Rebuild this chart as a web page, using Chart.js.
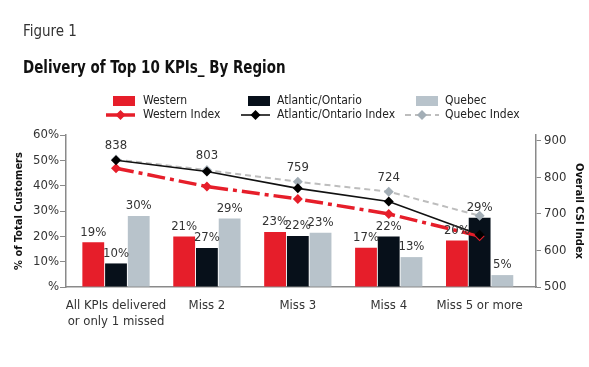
<!DOCTYPE html>
<html>
<head>
<meta charset="utf-8">
<script src="https://cdn.jsdelivr.net/npm/chart.js@4"></script>
<style>
  body { margin: 0; background: #fff; }
  #wrap { position: relative; width: 589px; height: 367px; }
  .fig { position: absolute; left: 23px; top: 22px; font: 15px "Liberation Sans Narrow", "DejaVu Sans Condensed", sans-serif; color: #333; }
  .ttl { position: absolute; left: 23px; top: 57px; font: bold 17px "Liberation Sans Narrow", "DejaVu Sans Condensed", sans-serif; color: #111;
         transform: scaleX(0.88); transform-origin: left center; white-space: nowrap; }
  canvas { position: absolute; left: 0; top: 0; }
</style>
</head>
<body>
<div id="wrap">
  <canvas id="chart" width="589" height="367"></canvas>
  <div class="fig">Figure 1</div>
  <div class="ttl">Delivery of Top 10 KPIs_ By Region</div>
</div>
<script>
// DATA -----------------------------------------------------------------------

const categories = [['All KPIs delivered', 'or only 1 missed'], 'Miss 2', 'Miss 3', 'Miss 4', 'Miss 5 or more']

// bar heights as drawn (% of total customers)
const western = [17.7, 19.9, 21.7, 15.5, 18.4]
const atlantic = [9.3, 15.4, 20.1, 19.9, 27.3]
const quebec = [28.0, 27.0, 21.4, 11.8, 4.7]

// labels printed above the bars
const westernLabels = ['19%', '21%', '23%', '17%', '20%']
const atlanticLabels = ['10%', '27%', '22%', '22%', '29%']
const quebecLabels = ['30%', '29%', '23%', '13%', '5%']

// overall CSI index lines
const westernIndex = [825, 775, 741, 700, 639]
const atlanticIndex = [847, 816, 770, 734, 643]
const quebecIndex = [849, 820, 788, 761, 695]
const indexLabels = ['838', '803', '759', '724', '']

const leftTicks = [0, 10, 20, 30, 40, 50, 60]
const rightTicks = [500, 600, 700, 800, 900]

// SETTINGS -------------------------------------------------------------------

const FONT = '"Liberation Sans Narrow", "DejaVu Sans Condensed", sans-serif'
const colors = {
    western: '#e61e2a',
    atlantic: '#07101a',
    quebec: '#b8c3cb',
    quebecLine: '#bdbdbd',
    quebecPoint: '#a3aeb6',
    axis: '#8a8a8a',
    text: '#333'
}

Chart.defaults.font.family = FONT
Chart.defaults.color = colors.text

// categories sit on a linear x scale at 0..4
const points = values => values.map((v, i) => ({x: i, y: v}))

function barDataset(label, data, color, texts) {
    return {
        type: 'bar',
        label: label,
        data: points(data),
        backgroundColor: color,
        yAxisID: 'y',
        order: 10,
        barPercentage: 0.96,
        categoryPercentage: 0.75,
        valueTexts: texts
    }
}

function lineDataset(label, data, color, pointColor, width, dash, order) {
    return {
        type: 'line',
        label: label,
        data: points(data),
        borderColor: color,
        backgroundColor: pointColor,
        pointBackgroundColor: pointColor,
        pointBorderColor: pointColor,
        borderWidth: width,
        borderDash: dash,
        pointStyle: 'rectRot',
        pointRadius: 5,
        pointBorderWidth: 0,
        yAxisID: 'y2',
        order: order,
        tension: 0
    }
}

// PLUGINS --------------------------------------------------------------------

// values above bars and the index numbers above the top line
const valueLabels = {
    id: 'valueLabels',
    afterDatasetsDraw(chart) {
        const ctx = chart.ctx
        ctx.save()
        ctx.font = '13px ' + FONT
        ctx.fillStyle = colors.text
        ctx.textAlign = 'center'
        ctx.textBaseline = 'middle'
        chart.data.datasets.forEach((ds, i) => {
            const meta = chart.getDatasetMeta(i)
            const texts = ds.valueTexts || ds.pointTexts
            if (!texts) return
            const off = ds.valueTexts ? 10 : 14
            meta.data.forEach((el, j) => {
                if (texts[j]) ctx.fillText(texts[j], el.x, el.y - off)
            })
        })
        ctx.restore()
    }
}

// three-column legend: bars on the first row, index lines on the second
const gridLegend = {
    id: 'gridLegend',
    afterDraw(chart) {
        const ctx = chart.ctx
        const cols = [{box: 113, line: 106, text: 143}, {box: 248, line: 241, text: 277}, {box: 416, line: 405, text: 445}]
        const ds = chart.data.datasets
        ctx.save()
        ctx.font = '12px ' + FONT
        ctx.textBaseline = 'middle'
        for (let i = 0; i < 3; i++) {
            const bar = ds[i], line = ds[i + 3], c = cols[i]
            ctx.fillStyle = bar.backgroundColor
            ctx.fillRect(c.box, 96, 22, 10)
            ctx.fillStyle = '#222'
            ctx.fillText(bar.label, c.text, 101)

            const x1 = c.line, x2 = c.box + 22 + (i === 2 ? 1 : 0)
            ctx.strokeStyle = line.borderColor
            ctx.lineWidth = line.borderWidth
            ctx.setLineDash(i === 0 ? [] : (line.borderDash || []))
            ctx.beginPath()
            ctx.moveTo(x1, 115)
            ctx.lineTo(x2, 115)
            ctx.stroke()
            ctx.setLineDash([])
            const mx = (x1 + x2) / 2
            ctx.fillStyle = line.pointBackgroundColor
            ctx.beginPath()
            ctx.moveTo(mx, 110); ctx.lineTo(mx + 5, 115); ctx.lineTo(mx, 120); ctx.lineTo(mx - 5, 115)
            ctx.closePath()
            ctx.fill()
            ctx.fillStyle = '#222'
            ctx.fillText(line.label, c.text, 115)
        }
        ctx.restore()
    }
}

// CHART ----------------------------------------------------------------------

const quebecLine = lineDataset('Quebec Index', quebecIndex, colors.quebecLine, colors.quebecPoint, 2, [6, 4], 3)
quebecLine.pointTexts = indexLabels

new Chart(document.getElementById('chart'), {
    data: {
        datasets: [
            barDataset('Western', western, colors.western, westernLabels),
            barDataset('Atlantic/Ontario', atlantic, colors.atlantic, atlanticLabels),
            barDataset('Quebec', quebec, colors.quebec, quebecLabels),
            lineDataset('Western Index', westernIndex, colors.western, colors.western, 3.5, [18, 5, 4, 5], 2),
            lineDataset('Atlantic/Ontario Index', atlanticIndex, '#111', '#000', 1.6, [], 1),
            quebecLine
        ]
    },
    options: {
        responsive: false,
        animation: false,
        layout: {padding: {top: 135, left: 0, right: 0, bottom: 0}},
        plugins: {
            legend: {display: false},
            tooltip: {enabled: false}
        },
        scales: {
            x: {
                type: 'linear',
                offset: false,
                min: -0.55,
                max: 4.62,
                afterBuildTicks(scale) { scale.ticks = categories.map((c, i) => ({value: i})) },
                grid: {display: false, offset: false},
                border: {display: true, color: colors.axis, width: 1.5},
                ticks: {font: {size: 13}, color: colors.text, padding: 3, maxRotation: 0, autoSkip: false,
                        callback: v => categories[v]},
                afterFit(scale) { scale.height = 80 }
            },
            y: {
                position: 'left',
                min: 0,
                max: 60,
                afterBuildTicks(scale) { scale.ticks = leftTicks.map(v => ({value: v})) },
                ticks: {
                    font: {size: 13},
                    color: colors.text,
                    padding: 1,
                    callback: v => v === 0 ? '%' : v + '%'
                },
                grid: {drawOnChartArea: false, color: colors.axis, tickLength: 6},
                border: {display: true, color: colors.axis, width: 1.5},
                title: {display: true, text: '% of Total Customers', font: {size: 11, weight: 'bold'}, color: '#111', padding: {top: 13, bottom: 0}},
                afterFit(scale) { scale.width = 66 }
            },
            y2: {
                position: 'right',
                min: 500,
                max: 916,
                afterBuildTicks(scale) { scale.ticks = rightTicks.map(v => ({value: v})) },
                ticks: {font: {size: 13}, color: colors.text, padding: 3},
                grid: {drawOnChartArea: false, color: colors.axis, tickLength: 5},
                border: {display: true, color: colors.axis, width: 1.5},
                title: {display: true, text: 'Overall CSI Index', font: {size: 11, weight: 'bold'}, color: '#111', padding: {top: 4, bottom: 0}},
                afterFit(scale) { scale.width = 53 }
            }
        }
    },
    plugins: [valueLabels, gridLegend]
});
</script>
</body>
</html>
